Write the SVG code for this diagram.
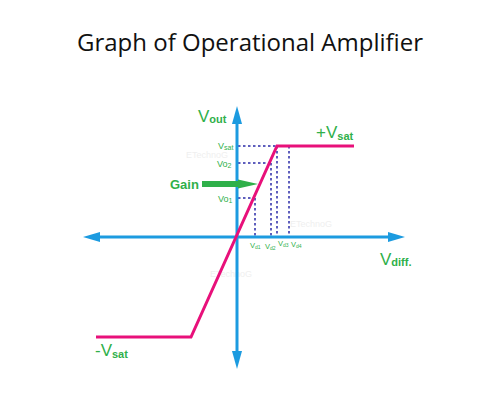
<svg xmlns="http://www.w3.org/2000/svg" width="500" height="400" viewBox="0 0 500 400">
<style>
.title{font-family:"Open Sans","Liberation Sans",sans-serif;font-size:24px;fill:#111}
.lbl{font-family:"Liberation Sans","DejaVu Sans",sans-serif;fill:#2fb04a}
.big{font-size:17px}
.sub{font-size:11px;font-weight:bold}
.sm{font-size:9px}
.xs{font-size:7px}
.vd{font-size:7.5px}
.vds{font-size:5px}
.wm{font-family:"Liberation Sans",sans-serif;font-size:9px;fill:#efefef}
.axis{stroke:#1c9be0;stroke-width:3;fill:none}
.curve{stroke:#e8107a;stroke-width:3;fill:none;stroke-linejoin:miter}
.dot{stroke:#2a2aa8;stroke-width:1.5;stroke-dasharray:2.5 2.5;fill:none}
</style>
<rect width="500" height="400" fill="#fff"/>
<text class="title" x="250" y="51" text-anchor="middle">Graph of Operational Amplifier</text>
<g id="watermarks">
<text class="wm" x="186" y="158">ETechnoG</text>
<text class="wm" x="290" y="227">ETechnoG</text>
<text class="wm" x="210" y="277">ETechnoG</text>
</g>
<g id="connectors">
<g id="dotted">
<path class="dot" d="M238 146H277M238 163H271M238 198H255M255 198V236M271 163V236M277 146V236M289 146V236"/>
</g>
<g id="axes">
<path class="axis" d="M96 237H392"/>
<path class="axis" d="M237 120V356"/>
<path d="M83 237L100 232L100 242Z" fill="#1c9be0"/>
<path d="M405 237L388 232L388 242Z" fill="#1c9be0"/>
<path d="M237 106L232 124L242 124Z" fill="#1c9be0"/>
<path d="M237 369L232 351L242 351Z" fill="#1c9be0"/>
</g>
<g id="curve">
<path class="curve" d="M96 337H191L277 146H354"/>
</g>
<g id="gain-arrow">
<path d="M202 181H238V179.5L258 184L238 188.5V187H202Z" fill="#2fb04a"/>
</g>
</g>
<g id="labels">
<g id="vout"><text class="lbl" x="198" y="122"><tspan class="big">V</tspan><tspan class="sub" dy="1">out</tspan></text></g>
<g id="pvsat"><text class="lbl" x="316" y="138"><tspan class="big">+V</tspan><tspan class="sub" dy="2">sat</tspan></text></g>
<g id="nvsat"><text class="lbl" x="95" y="356"><tspan class="big">-V</tspan><tspan class="sub" dy="2">sat</tspan></text></g>
<g id="vdiff"><text class="lbl" x="380" y="265"><tspan class="big">V</tspan><tspan class="sub" dy="1">diff.</tspan></text></g>
<g id="gain"><text class="lbl" x="170" y="189" font-size="13" font-weight="bold">Gain</text></g>
<g id="vsat-small"><text class="lbl" x="218" y="149"><tspan class="sm">V</tspan><tspan class="xs" dy="1">sat</tspan></text></g>
<g id="vo2"><text class="lbl sm" x="217" y="167">Vo<tspan class="xs" dy="1">2</tspan></text></g>
<g id="vo1"><text class="lbl sm" x="218" y="202">Vo<tspan class="xs" dy="1">1</tspan></text></g>
<g id="vd1"><text class="lbl" x="250" y="248"><tspan class="vd">V</tspan><tspan class="vds" dy="1">d1</tspan></text></g>
<g id="vd2"><text class="lbl" x="265" y="249"><tspan class="vd">V</tspan><tspan class="vds" dy="1">d2</tspan></text></g>
<g id="vd3"><text class="lbl" x="278" y="246"><tspan class="vd">V</tspan><tspan class="vds" dy="1">d3</tspan></text></g>
<g id="vd4"><text class="lbl" x="291" y="247"><tspan class="vd">V</tspan><tspan class="vds" dy="1">d4</tspan></text></g>
</g>
</svg>
